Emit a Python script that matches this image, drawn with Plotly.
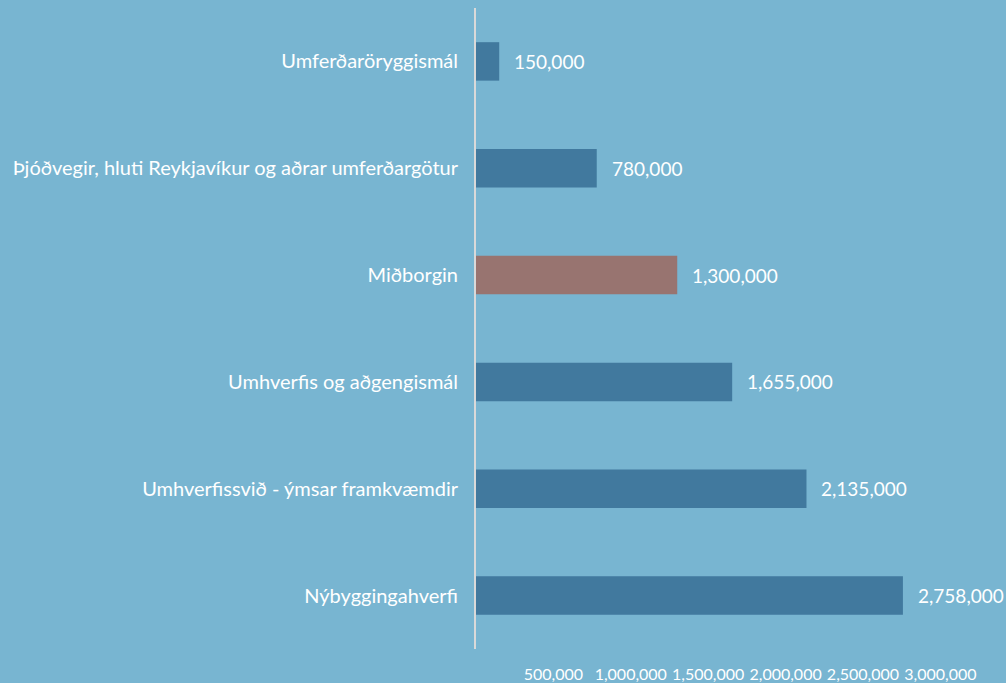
import plotly.graph_objects as go

categories = [
    'Umferðaröryggismál',
    'Þjóðvegir, hluti Reykjavíkur og aðrar umferðargötur',
    'Miðborgin',
    'Umhverfis og aðgengismál',
    'Umhverfissvið - ýmsar framkvæmdir',
    'Nýbyggingahverfi',
]
values = [150000, 780000, 1300000, 1655000, 2135000, 2758000]
tick_vals = [500000, 1000000, 1500000, 2000000, 2500000, 3000000]
tick_labels = ['500,000', '1,000,000', '1,500,000', '2,000,000', '2,500,000', '3,000,000']

BG = '#78B5D1'
BLUE = '#41799E'
BROWN = '#987470'
bar_colors = [BROWN if c == 'Miðborgin' else BLUE for c in categories]

fig = go.Figure(go.Bar(
    x=values, y=categories, orientation='h',
    marker=dict(color=bar_colors, line=dict(width=0)),
    width=0.36,
    hoverinfo='skip',
))

# value labels to the right of each bar
for c, v in zip(categories, values):
    fig.add_annotation(x=v, y=c, text=f'{v:,}', showarrow=False,
                       xanchor='left', xshift=13,
                       font=dict(size=19, color='white'))

fig.update_layout(
    width=1006, height=683,
    margin=dict(l=476, r=0, t=8, b=34, autoexpand=False),
    paper_bgcolor=BG, plot_bgcolor=BG,
    font=dict(family='Lato', color='white', size=20),
    showlegend=False,
    xaxis=dict(range=[0, 3.424e6], tickvals=tick_vals, ticktext=tick_labels,
               showgrid=False, zeroline=False, showline=False, automargin=False,
               ticks='outside', ticklen=11, tickcolor='rgba(0,0,0,0)',
               tickfont=dict(size=16)),
    yaxis=dict(autorange='reversed', showgrid=False, zeroline=False,
               showline=True, linecolor='#D9D9D9', linewidth=2, automargin=False,
               ticks='outside', ticklen=12, tickcolor='rgba(0,0,0,0)',
               tickfont=dict(size=20)),
)

fig.write_html('out.html', config={'displayModeBar': False},
               post_script="document.body.style.margin='0';")
